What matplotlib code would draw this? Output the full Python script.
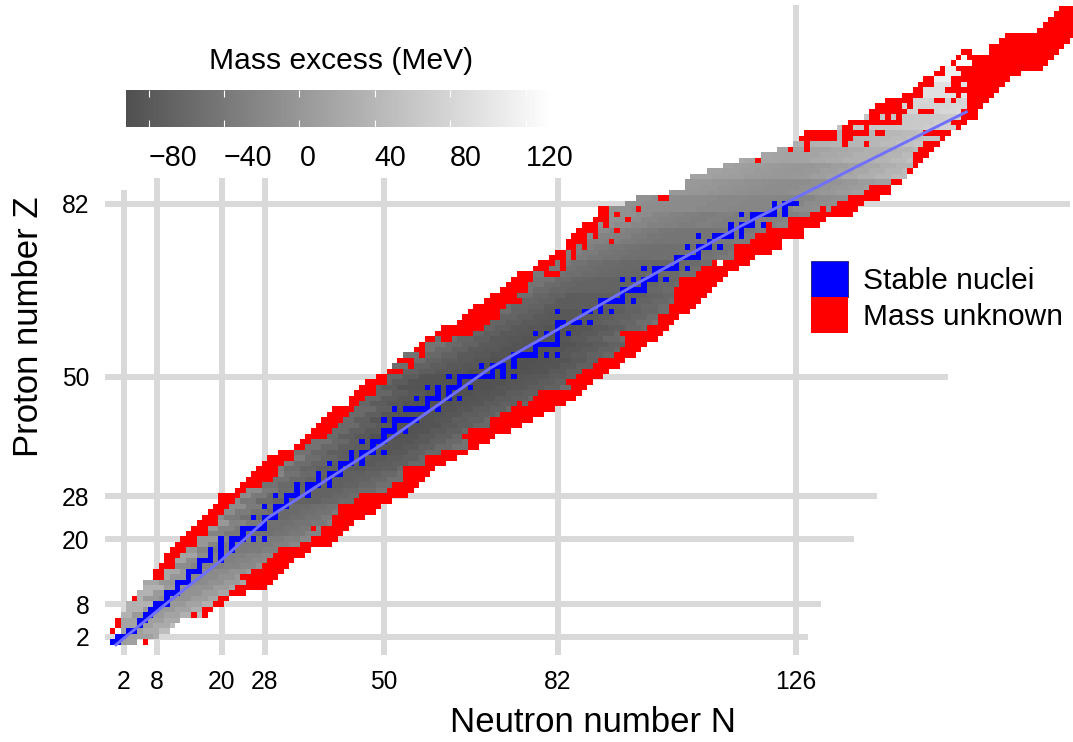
import numpy as np
import matplotlib
matplotlib.use("Agg")
import matplotlib.pyplot as plt
from matplotlib.colors import LinearSegmentedColormap, ListedColormap, Normalize
from matplotlib.cm import ScalarMappable
from matplotlib.patches import Patch

plt.rcParams['font.family'] = ['Liberation Sans', 'DejaVu Sans']

# first and last N with a known mass, for Z = 1, 2, 3, ...
known_first = [0, 1, 2, 2, 2, 2, 3, 3, 5, 5, 6, 6, 10, 10, 12, 12, 13, 14, 16, 16,
               18, 18, 20, 20, 21, 22, 23, 24, 25, 28, 30, 31, 31, 32, 34, 34, 36, 37, 40, 41,
               42, 43, 44, 45, 46, 47, 49, 49, 51, 51, 54, 52, 56, 54, 58, 58, 60, 67, 69, 70,
               72, 72, 73, 76, 75, 77, 77, 78, 78, 81, 82, 84, 84, 86, 88, 88, 90, 90, 92, 92,
               92, 95, 97, 103, 106, 106, 107, 110, 113, 116, 120, 123, 126, 127, 128, 134, 136, 139, 140, 141,
               143, 146, 148, 149, 150, 152, 153, 155, 157]
known_last = [4, 8, 10, 11, 12, 16, 16, 18, 19, 21, 22, 24, 23, 25, 27, 28, 29, 30, 34, 36,
              38, 38, 40, 40, 41, 41, 44, 45, 50, 51, 53, 53, 53, 57, 57, 60, 65, 65, 64, 65,
              69, 69, 71, 73, 76, 77, 78, 84, 83, 85, 86, 88, 89, 92, 93, 94, 94, 93, 98, 100,
              100, 102, 102, 103, 103, 103, 104, 104, 107, 108, 110, 114, 114, 114, 117, 118, 120, 124, 124, 128,
              132, 133, 135, 138, 139, 143, 146, 146, 147, 147, 147, 148, 149, 152, 149, 155, 154, 156, 156, 157,
              157, 157, 153, 157, 154, 156, 155, 158, 157]

# nuclei without measured mass: Z -> runs of N
unknown = {
    1: [(6, 6)], 3: [(0, 0)], 4: [(1, 1)], 5: [(1, 1)], 6: [(15, 15), (17, 17)], 7: [(17, 18)],
    8: [(19, 20)], 9: [(4, 4), (20, 21)], 10: [(22, 24)], 11: [(23, 28)], 12: [(25, 29)],
    13: [(8, 9), (24, 30)], 14: [(8, 9), (26, 31)], 15: [(9, 11), (28, 32)], 16: [(10, 11), (29, 33)],
    17: [(10, 12), (30, 35)], 18: [(11, 13), (31, 36)], 19: [(12, 15), (35, 40)], 20: [(13, 15), (37, 41)],
    21: [(14, 17), (39, 42)], 22: [(15, 17), (37, 37), (39, 43)], 23: [(16, 19), (41, 44)],
    24: [(17, 19), (41, 46)], 25: [(18, 20), (42, 48)], 26: [(19, 21), (42, 49)], 27: [(20, 22), (45, 51)],
    28: [(20, 23), (46, 54)], 29: [(23, 24), (51, 55)], 30: [(24, 27), (52, 56)], 31: [(25, 29), (54, 57)],
    32: [(26, 30), (54, 58)], 33: [(27, 30), (54, 59)], 34: [(28, 31), (58, 61)], 35: [(29, 33), (58, 63)],
    36: [(31, 33), (61, 65)], 37: [(34, 35), (66, 67)], 38: [(35, 36), (66, 69)], 39: [(36, 39), (65, 70)],
    40: [(37, 40), (66, 73)], 41: [(38, 41), (70, 75)], 42: [(39, 42), (70, 77)], 43: [(40, 43), (72, 79)],
    44: [(41, 44), (74, 81)], 45: [(44, 45), (75, 75), (77, 83)], 46: [(44, 46), (78, 85)],
    47: [(45, 48), (79, 86)], 48: [(46, 48), (85, 87)], 49: [(47, 50), (84, 88)], 50: [(49, 50), (86, 90)],
    51: [(51, 53), (87, 91)], 52: [(55, 55), (89, 93)], 53: [(53, 55), (90, 94)], 54: [(57, 57), (93, 96)],
    55: [(56, 57), (94, 97)], 56: [(57, 57), (95, 98)], 57: [(58, 59), (61, 62), (95, 100)],
    58: [(60, 66), (94, 101)], 59: [(61, 68), (99, 102)], 60: [(64, 69), (101, 103)], 61: [(65, 71), (101, 104)],
    62: [(66, 71), (103, 106)], 63: [(67, 72), (103, 107)], 64: [(69, 75), (104, 108)], 65: [(70, 74), (104, 109)],
    66: [(72, 76), (104, 110)], 67: [(73, 76), (105, 111)], 68: [(74, 77), (105, 112)],
    69: [(75, 77), (80, 82), (108, 113)], 70: [(78, 80), (83, 83), (109, 115)],
    71: [(79, 81), (83, 83), (111, 111), (113, 117)], 72: [(81, 83), (85, 85), (115, 118)],
    73: [(82, 83), (85, 85), (115, 121)], 74: [(84, 85), (87, 87), (115, 123)],
    75: [(84, 87), (92, 92), (118, 123)], 76: [(85, 87), (89, 89), (119, 127)],
    77: [(86, 89), (93, 93), (121, 127)], 78: [(87, 89), (91, 91), (121, 121), (125, 130)],
    79: [(89, 91), (95, 95), (125, 131)], 80: [(90, 91), (93, 93), (129, 136)],
    81: [(90, 91), (97, 97), (131, 131), (133, 137)], 82: [(134, 138)], 83: [(101, 102), (136, 141)],
    84: [(139, 143)], 85: [(140, 143)], 86: [(144, 145)], 88: [(147, 147)], 89: [(148, 148)],
    90: [(119, 119), (148, 149)], 91: [(148, 150)], 92: [(125, 125), (128, 128), (149, 151)],
    93: [(128, 128), (135, 135), (139, 139), (150, 152)], 94: [(127, 133), (135, 136), (153, 153)],
    95: [(128, 133), (135, 139), (141, 142), (150, 154)], 96: [(135, 136), (139, 139), (156, 156)],
    97: [(136, 145), (155, 157)], 98: [(140, 141), (143, 143), (145, 145), (157, 159)],
    99: [(140, 146), (149, 151), (157, 159)], 100: [(141, 145), (147, 147), (158, 160)],
    101: [(143, 147), (152, 153), (155, 155), (158, 161)], 102: [(146, 149), (156, 156), (158, 162)],
    103: [(148, 149), (154, 163)], 104: [(149, 151), (155, 156), (158, 164)], 105: [(150, 151), (155, 165)],
    106: [(152, 153), (157, 167)], 107: [(153, 153), (156, 171)], 108: [(155, 155), (159, 172)],
    109: [(156, 156), (158, 173)], 110: [(157, 158), (162, 174)], 111: [(162, 175)], 112: [(164, 176)],
    113: [(165, 177)], 114: [(171, 177)], 115: [(172, 177)], 116: [(173, 177)], 117: [(174, 177)],
    118: [(175, 177)],
}

# stable nuclei: Z -> N
stable = {
    1: [0, 1], 2: [1, 2], 3: [3, 4], 4: [5], 5: [5, 6], 6: [6, 7], 7: [7, 8], 8: [8, 9, 10], 9: [10],
    10: [10, 11, 12], 11: [12], 12: [12, 13, 14], 13: [14], 14: [14, 15, 16], 15: [16], 16: [16, 17, 18, 20],
    17: [18, 20], 18: [18, 20, 22], 19: [20, 22], 20: [20, 22, 23, 24, 26, 28], 21: [24],
    22: [24, 25, 26, 27, 28], 23: [28], 24: [26, 28, 29, 30], 25: [30], 26: [28, 30, 31, 32], 27: [32],
    28: [30, 32, 33, 34, 36], 29: [34, 36], 30: [34, 36, 37, 38, 40], 31: [38, 40], 32: [38, 40, 41, 42],
    33: [42], 34: [40, 42, 43, 44, 46], 35: [44, 46], 36: [44, 46, 47, 48, 50], 37: [48], 38: [46, 48, 49, 50],
    39: [50], 40: [50, 51, 52, 54], 41: [52], 42: [50, 52, 53, 54, 55, 56], 44: [52, 54, 55, 56, 57, 58, 60],
    45: [58], 46: [56, 58, 59, 60, 62, 64], 47: [60, 62], 48: [58, 60, 62, 63, 64, 66], 49: [64],
    50: [62, 64, 65, 66, 67, 68, 69, 70, 72, 74], 51: [70, 72], 52: [68, 70, 71, 72, 74], 53: [74],
    54: [74, 75, 76, 77, 78, 80, 82], 55: [78], 56: [78, 79, 80, 81, 82], 57: [82], 58: [78, 80, 82, 84],
    59: [82], 60: [82, 83, 85, 86, 88], 62: [82, 87, 88, 90, 92], 63: [90], 64: [90, 91, 92, 93, 94, 96],
    65: [94], 66: [94, 95, 96, 97, 98], 67: [98], 68: [94, 96, 98, 99, 100, 102], 69: [100],
    70: [98, 100, 101, 102, 103, 104, 106], 71: [104], 72: [104, 105, 106, 107, 108], 73: [108],
    74: [106, 108, 109, 110, 112], 75: [110], 76: [108, 111, 112, 113, 114, 116], 77: [114, 116],
    78: [114, 116, 117, 118, 120], 79: [118], 80: [116, 118, 119, 120, 121, 122, 124], 81: [122, 124],
    82: [122, 124, 125, 126],
}

me_start = [0, 2, 3, 5, 8, 11, 15, 17, 20, 23, 27, 31, 36, 41, 44, 47, 49, 53, 57, 63, 69, 73, 77, 80, 84,
            87, 92, 95, 103, 107, 116, 126, 134, 140, 146, 150, 155]
me_values = [
    [8, 12, 28],
    [15, 11, 25, 50],
    [35, 5, 3, 15, 32, 50],
    [35, 5, -7, -6, 6, 20, 35],
    [20, -1, -17, -16, -8, 5, 20],
    [16, -14, -27, -30, -24, -17, -4],
    [0, -24, -34, -37, -35, -30, -18, -4],
    [2, -25, -39, -48, -50, -45, -38, -25, -12],
    [-14, -35, -48, -56, -57, -53, -46, -36, -24],
    [-15, -39, -56, -64, -66, -66, -60, -54, -44, -36, -24],
    [-24, -47, -59, -67, -69, -70, -66, -60, -49, -38],
    [-33, -54, -63, -72, -75, -78, -75, -70, -59, -45],
    [-46, -60, -71, -76, -82, -83, -78, -69, -58, -46, -33],
    [-57, -71, -79, -88, -87, -85, -78, -72, -61, -52, -40],
    [-57, -71, -83, -86, -87, -85, -82, -75, -69, -58, -48, -35],
    [-62, -76, -82, -88, -88, -90, -86, -83, -76, -70, -60, -48, -36],
    [-63, -76, -85, -87, -88, -89, -88, -88, -84, -80, -74, -68, -54],
    [-53, -66, -74, -79, -84, -89, -89, -90, -87, -85, -78, -69, -60, -50],
    [-46, -59, -68, -77, -81, -86, -86, -88, -86, -81, -76, -68, -60, -49],
    [-52, -64, -71, -79, -82, -86, -87, -84, -77, -72, -61, -52, -42],
    [-52, -65, -71, -77, -81, -81, -77, -73, -68, -62, -53, -44],
    [-52, -62, -68, -76, -75, -75, -72, -71, -65, -60, -52, -42],
    [-45, -56, -62, -65, -65, -67, -66, -65, -60, -55, -47, -37],
    [-38, -47, -53, -56, -59, -60, -62, -59, -57, -51, -45, -37],
    [-29, -36, -42, -46, -50, -51, -49, -49, -48, -45, -39, -31],
    [-16, -25, -30, -35, -40, -43, -43, -44, -41, -39, -33, -28, -18],
    [-7, -14, -21, -26, -30, -32, -30, -33, -33, -30, -26, -21, -14, -5],
    [-8, -12, -14, -15, -16, -18, -19, -21, -22, -23, -23, -14, -10, -4, 5],
    [3, 1, -1, -4, -7, -10, -12, -13, -9, -3, 2, 6, 13, 20],
    [16, 14, 11, 8, 5, 2, 0, 3, 9, 14, 22, 29, 38, 46],
    [23, 20, 17, 16, 17, 22, 26, 32, 33, 37, 45, 54],
    [29, 32, 35, 38, 40, 42, 46, 53, 59, 69],
    [58, 60, 61, 62, 64, 65, 70, 76, 85],
    [90, 85, 80, 77, 77, 82, 88],
    [100, 96, 95, 96, 100],
    [115, 112, 112, 118],
    [128, 128, 130],
]

# line of beta stability
line_n = [0.5, 9.9, 19.7, 28.6, 49.8, 69.5, 82.4, 97.2, 115.6, 137.2, 157.4]
line_z = [0.5, 8.2, 15.9, 24.0, 37.7, 51.6, 59.0, 67.6, 77.8, 88.9, 99.0]

# magic numbers and how far their guide lines reach
magic = [2, 8, 20, 28, 50, 82, 126]
magic_z_top = [84.6, 86.8, 86.8, 86.8, 86.8, 86.8, 118.8]
magic_z_labels = [2, 8, 20, 28, 50, 82]
magic_n_right = [128.2, 130.6, 136.7, 141.0, 154.0, 176.5]

cbar_ticks = [-80, -40, 0, 40, 80, 120]
cbar_min, cbar_max = -92, 134

# build the grids
max_n = 178
max_z = 119
excess = np.full((max_z, max_n), np.nan)
red = np.full((max_z, max_n), np.nan)
blue = np.full((max_z, max_n), np.nan)
for i in range(len(known_first)):
    z = i + 1
    b = z // 3
    # the blocks lean with the valley so the rows of a block line up
    lean = 2 * (z - (3 * b + 1))
    for n in range(known_first[i], known_last[i] + 1):
        k = (n - me_start[b] - lean) // 3
        k = max(0, min(k, len(me_values[b]) - 1))
        excess[z, n] = me_values[b][k]
for z, runs in unknown.items():
    for a, b in runs:
        red[z, a:b + 1] = 1
for z, ns in stable.items():
    for n in ns:
        blue[z, n] = 1

cmap = LinearSegmentedColormap.from_list("masa", ["#505050", "#ffffff"])
norm = Normalize(cbar_min, cbar_max)

fig = plt.figure(figsize=(10.73, 7.42), dpi=100)
ax = fig.add_axes([105 / 1073, 87 / 742, 968 / 1073, 655 / 742])

# guide lines
for n, top in zip(magic, magic_z_top):
    ax.plot([n, n], [-1.39, top], color="#d9d9d9", lw=4.3, solid_capstyle="butt", zorder=1)
for z, right in zip(magic_z_labels, magic_n_right):
    ax.plot([-1.51, right], [z, z], color="#d9d9d9", lw=4.3, solid_capstyle="butt", zorder=1)

extent = (-0.5, max_n - 0.5, -0.5, max_z - 0.5)
ax.imshow(np.ma.masked_invalid(excess), origin="lower", extent=extent, aspect="auto",
          interpolation="nearest", cmap=cmap, norm=norm, zorder=2)
ax.imshow(np.ma.masked_invalid(blue), origin="lower", extent=extent, aspect="auto",
          interpolation="nearest", cmap=ListedColormap(["#0000ff"]), zorder=3)
ax.imshow(np.ma.masked_invalid(red), origin="lower", extent=extent, aspect="auto",
          interpolation="nearest", cmap=ListedColormap(["#ff0000"]), zorder=4)
ax.plot(line_n, line_z, color="#7070ff", lw=2.1, zorder=5)
ax.set_xlim(-1.51, 177.08)
ax.set_ylim(-1.39, 119.69)

for s in ax.spines.values():
    s.set_visible(False)
ax.set_xticks(magic)
ax.set_yticks(magic_z_labels)
ax.tick_params(length=0, labelsize=17.7)
ax.tick_params(axis="x", pad=11)
ax.tick_params(axis="y", pad=11)
ax.set_xlabel("Neutron number N", fontsize=25)
ax.xaxis.set_label_coords(0.504, -0.078)
ax.set_ylabel("Proton number Z", fontsize=25)
ax.yaxis.set_label_coords(-0.062, 0.502)

# colour bar
cax = fig.add_axes([126 / 1073, 1 - 127 / 742, 426 / 1073, 37 / 742])
cb = fig.colorbar(ScalarMappable(norm=norm, cmap=cmap), cax=cax, orientation="horizontal")
cb.outline.set_visible(False)
cb.set_ticks(cbar_ticks)
cax.tick_params(axis="x", direction="in", color="white", length=5, width=0.8, top=True, bottom=True,
                labelsize=20.6, pad=12.5)
for t in cax.get_xticklabels():
    t.set_ha("left")
fig.text(341 / 1073, 1 - 61 / 742, "Mass excess (MeV)", fontsize=21.6, ha="center", va="center")

# legend
handles = [Patch(facecolor="#0000ff", edgecolor="#20206a", lw=0.6, label="Stable nuclei"),
           Patch(facecolor="#ff0000", edgecolor="#ff0000", lw=0, label="Mass unknown")]
fig.legend(handles=handles, loc="upper left", bbox_to_anchor=(811 / 1073, 1 - 261 / 742), frameon=False,
           fontsize=21.5, handlelength=1.23, handleheight=1.47, labelspacing=0, handletextpad=0.5,
           borderpad=0, borderaxespad=0)

fig.savefig("out.png", dpi=100)
plt.close(fig)
